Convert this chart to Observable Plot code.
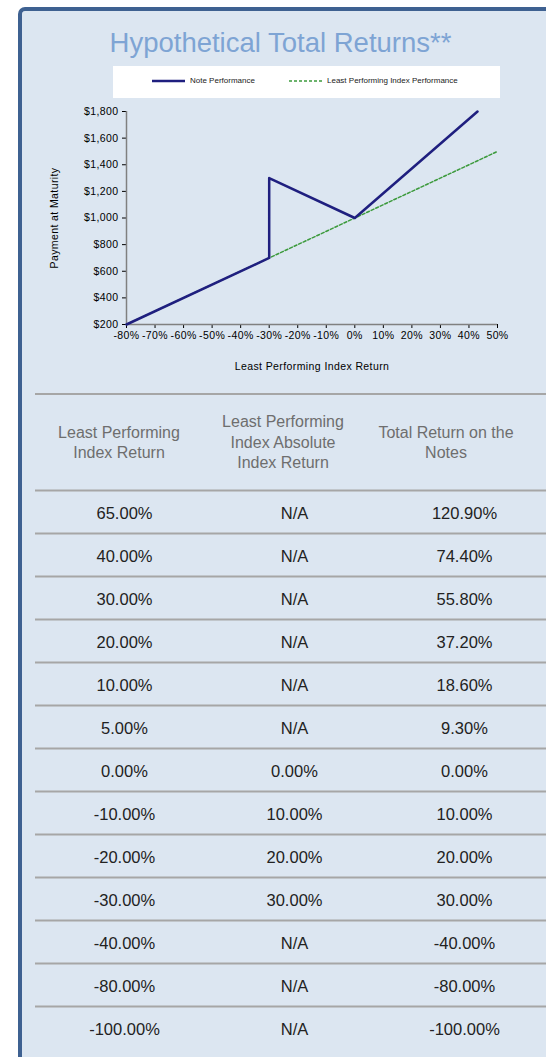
<!DOCTYPE html>
<html><head><meta charset="utf-8">
<script src="https://cdn.jsdelivr.net/npm/d3@7"></script>
<script src="https://cdn.jsdelivr.net/npm/@observablehq/plot@0.6"></script>
<style>
html,body{margin:0;padding:0;background:#fff;width:546px;height:1057px;overflow:hidden;font-family:"Liberation Sans",Arial,sans-serif;}
#panel{position:absolute;left:18px;top:7px;width:560px;height:1080px;background:#dce6f1;border-left:4px solid #3e6191;border-top:4px solid #3e6191;border-top-left-radius:7px;box-sizing:border-box;}
#title{position:absolute;left:0;width:561px;top:26.5px;line-height:32px;text-align:center;font-size:27.5px;color:#7ea4d4;white-space:nowrap;}
#legend{position:absolute;left:113px;top:66px;width:387px;height:32px;background:#fff;}
.lgtext{position:absolute;top:10px;font-size:8px;line-height:10px;color:#222;white-space:nowrap;}
#chart{position:absolute;left:0;top:100px;}
#chart svg text{letter-spacing:0.4px;}
#table{position:absolute;left:0;top:380px;}
.hrule{position:absolute;left:35px;width:511px;height:2px;background:#a6a6a6;}
.hcell{position:absolute;top:413px;height:60px;width:170px;display:flex;align-items:center;justify-content:center;text-align:center;font-size:16px;line-height:20.5px;color:#6e6e6e;white-space:pre-line;}
</style></head>
<body>
<div id="panel"></div>
<div id="title">Hypothetical Total Returns**</div>
<div id="legend">
  <svg width="387" height="32" style="position:absolute;left:0;top:0">
    <line x1="39" x2="72" y1="15" y2="15" stroke="#1f1f7f" stroke-width="2.5"/>
    <line x1="176" x2="209" y1="15" y2="15" stroke="#3c9a3c" stroke-width="1.5" stroke-dasharray="3,2"/>
  </svg>
  <div class="lgtext" id="lg1" style="left:77px"></div>
  <div class="lgtext" id="lg2" style="left:214px"></div>
</div>
<div id="chart"></div>
<div class="hrule" style="top:393px"></div>
<div id="headers"></div>
<div id="table"></div>
<script>
// ---- chart data ----
const seriesNames = ["Note Performance", "Least Performing Index Performance"];
const noteReturn = [-80, -30, -30, 0, 43];
const notePayment = [200, 700, 1300, 1000, 1800];
const indexReturn = [-80, -30, 0, 50];
const indexPayment = [200, 700, 1000, 1500];
const xTicks = [-80, -70, -60, -50, -40, -30, -20, -10, 0, 10, 20, 30, 40, 50];
const yTicks = [200, 400, 600, 800, 1000, 1200, 1400, 1600, 1800];
const xLabel = "Least Performing Index Return";
const yLabel = "Payment at Maturity";

// ---- table data ----
const headers = ["Least Performing\nIndex Return", "Least Performing\nIndex Absolute\nIndex Return", "Total Return on the\nNotes"];
const colIndexReturn = ["65.00%","40.00%","30.00%","20.00%","10.00%","5.00%","0.00%","-10.00%","-20.00%","-30.00%","-40.00%","-80.00%","-100.00%"];
const colAbsReturn = ["N/A","N/A","N/A","N/A","N/A","N/A","0.00%","10.00%","20.00%","30.00%","N/A","N/A","N/A"];
const colTotalReturn = ["120.90%","74.40%","55.80%","37.20%","18.60%","9.30%","0.00%","10.00%","20.00%","30.00%","-40.00%","-80.00%","-100.00%"];

document.getElementById("lg1").textContent = seriesNames[0];
document.getElementById("lg2").textContent = seriesNames[1];

const noteData = noteReturn.map((x, i) => ({x, y: notePayment[i]}));
const indexData = indexReturn.map((x, i) => ({x, y: indexPayment[i]}));

const chart = Plot.plot({
  width: 546, height: 274,
  marginLeft: 126, marginRight: 49, marginTop: 11, marginBottom: 50,
  style: {background: "transparent", fontFamily: "Liberation Sans, Arial, sans-serif", fontSize: "10.5px", color: "#000", overflow: "visible"},
  x: {domain: [-80, 50], ticks: xTicks, tickFormat: d => d + "%", label: xLabel, labelAnchor: "center", labelOffset: 45, labelArrow: false, tickSize: 4, tickPadding: 3},
  y: {domain: [200, 1800], ticks: yTicks, tickFormat: d => "$" + d3.format(",")(d), label: yLabel, labelAnchor: "center", labelOffset: 76, labelArrow: false, tickSize: 4, tickPadding: 4},
  marks: [
    Plot.ruleY([200], {stroke: "#808080", strokeWidth: 1.5}),
    Plot.ruleX([-80], {stroke: "#808080", strokeWidth: 1.5}),
    Plot.line(indexData, {x: "x", y: "y", stroke: "#3c9a3c", strokeWidth: 1.5, strokeDasharray: "3,2"}),
    Plot.line(noteData, {x: "x", y: "y", stroke: "#1f1f7f", strokeWidth: 2.5})
  ]
});
document.getElementById("chart").append(chart);

// headers
const headerCenters = [119, 283, 446];
const hdiv = document.getElementById("headers");
headers.forEach((h, i) => {
  const d = document.createElement("div");
  d.className = "hcell";
  d.style.left = (headerCenters[i] - 85) + "px";
  d.textContent = h;
  hdiv.append(d);
});

const cells = colIndexReturn.flatMap((v, i) => [
  {col: headers[0], row: i, v},
  {col: headers[1], row: i, v: colAbsReturn[i]},
  {col: headers[2], row: i, v: colTotalReturn[i]}
]);

const table = Plot.plot({
  width: 546, height: 677,
  marginLeft: 35, marginRight: 0, marginTop: 110, marginBottom: 8,
  style: {background: "transparent", fontFamily: "Liberation Sans, Arial, sans-serif", overflow: "visible"},
  x: {type: "point", domain: headers, range: [124, 464], padding: 0, axis: null},
  y: {domain: [0, colIndexReturn.length], reverse: true, axis: null},
  marks: [
    Plot.ruleY(d3.range(colIndexReturn.length), {stroke: "#a6a6a6", strokeWidth: 2}),
    Plot.text(cells, {x: "col", y: d => d.row + 0.5, text: "v", fontSize: 16.5, fill: "#222", dy: 2})
  ]
});
document.getElementById("table").append(table);
</script>
</body></html>
